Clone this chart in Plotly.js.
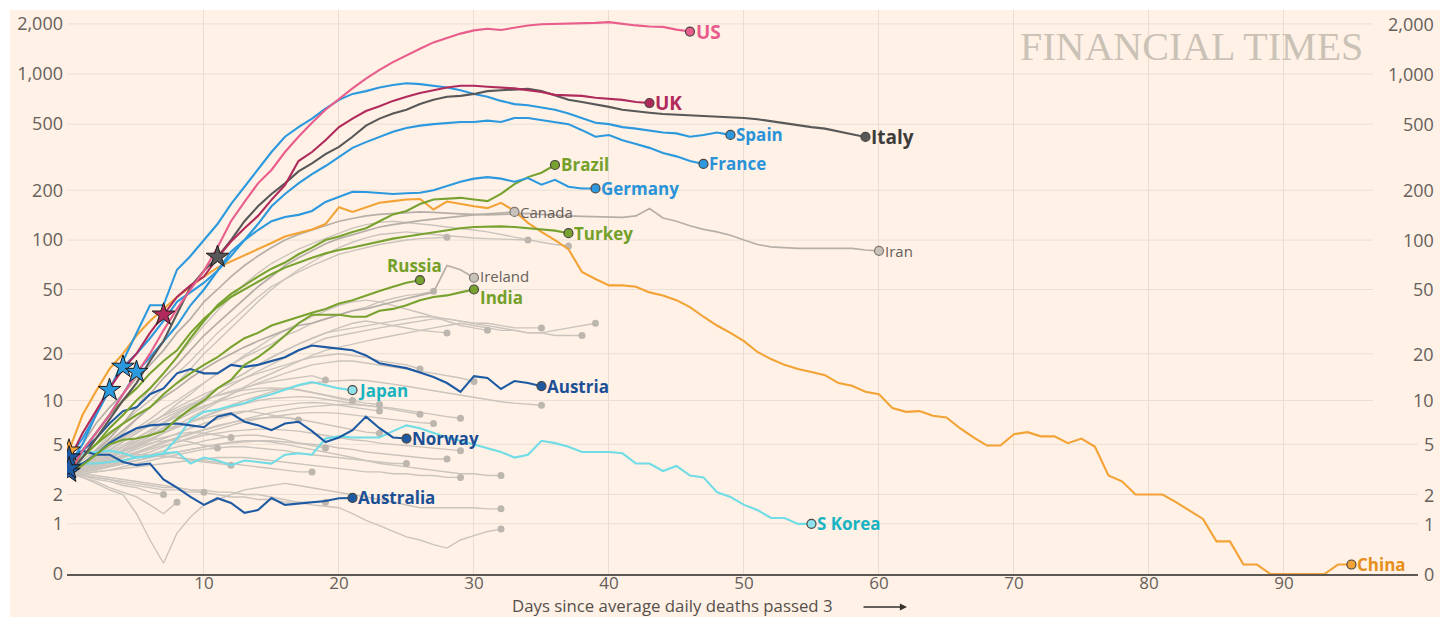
<!DOCTYPE html>
<html><head><meta charset="utf-8">
<script src="https://cdn.plot.ly/plotly-3.0.1.min.js"></script>
<style>html,body{margin:0;padding:0;background:#fff;width:1440px;height:617px;overflow:hidden}
#chart{position:absolute;left:10px;top:10px;width:1430px;height:607px}</style>
</head><body><div id="chart"></div>
<script>
// ---- DATA (7-day average daily deaths, index = days since avg passed 3) ----
const US = [3,4.5,6,8,11,15,20,28,38,50,65,90,130,170,220,265,340,420,510,610,710,820,940,1060,1180,1300,1420,1550,1650,1750,1830,1870,1840,1900,1960,1990,2000,1990,2010,2030,2050,2000,1960,1930,1920,1850,1800];
const UK = [3.8,6,8.5,12,16,20,27,35,45,53,60,78,98,118,140,175,215,300,340,400,480,540,600,640,690,730,770,800,830,850,850,840,830,820,800,780,750,745,740,720,710,700,680,670];
const Italy = [3,4,5.5,7.5,10,13,18,24,35,52,65,79,100,130,160,190,220,260,290,330,365,420,490,540,580,610,660,700,730,740,760,790,800,810,815,790,740,700,680,660,635,610,595,585,575,570,570,565,555,550,545,535,520,505,495,480,470,450,435,419];
const Spain = [4,5.5,8,11.7,18,27,40,40,66,80,100,125,165,210,266,340,420,480,540,620,700,760,790,830,860,880,870,850,830,800,760,730,690,660,650,630,610,580,545,510,500,480,470,455,445,440,420,430,445,431];
const France = [3.5,5,8,12,16.5,20,25,32,42,48,55,65,80,100,125,160,190,220,250,280,318,360,390,420,450,474,490,500,510,515,515,525,515,545,545,530,515,500,460,420,430,400,380,360,335,320,300,288];
const Germany = [3.2,4.5,6,8,11,15.3,19,24,30,40,50,65,85,100,115,130,138,142,150,170,182,196,195,193,190,192,193,200,212,225,235,240,235,225,237,216,231,210,205,205];
const Brazil = [3.2,4,5,6.5,8,10,12,15,19,25,32,40,47,53,60,67,73,82,90,100,105,112,118,130,143,150,165,176,178,180,176,172,190,218,240,255,284];
const Turkey = [3,4.5,6,8,10,12,15,18,21,27,33,39,45,50,56,62,68,73,78,83,87,90,94,98,102,105,108,112,115,118,120,121,121,120,118,116,114,110];
const Russia = [3.2,4,5,6,7,8,9,11,13,15,17,19,22,25,27,30,32,34,36,38,41,43,46,49,52,55,57];
const India = [3,3.5,4.2,5,5.4,5.5,5.8,6.2,7.5,8.8,10,12,13.6,17,19,22,26,31,35,35,35,34,34,37,38,40,43,45,46,48,50];
const China = [4.5,8,11.5,16,20,26,32,38,45,52,60,68,74,81,88,96,105,110,116,125,158,148,158,168,172,176,177,153,171,165,160,156,168,150,127,112,100,88,64,58,53,53,52,48,46,43,39,34,30,27,24,20.5,18.5,17,16,15.3,14.6,13,12.5,11.4,11,8.9,8.4,8.5,7.9,7.7,6.5,5.6,4.9,4.9,5.9,6.1,5.7,5.7,5.1,5.5,4.8,2.9,2.6,2,2,2,1.7,1.4,1.14,0.57,0.57,0.14,0.14,0,0,0,0,0,0.14,0.14];
const Japan = [3.5,3.6,3.6,3.7,3.8,4,4.1,4.3,5.5,7.4,8.4,8.7,9.2,9.6,10.4,11,11.8,12.6,13.2,12.6,12,11.7];
const SKorea = [3.3,4.3,4.4,4.5,4.3,4,4.1,4.3,4.4,3.6,4,3.8,3.5,3.8,3.7,3.6,4.2,4.3,4.2,5.5,5.7,5.6,5.6,5.6,6.2,6.8,6.5,6,5.6,5.3,5,4.7,4.4,4,4.2,5.3,5.1,4.8,4.4,4.4,4.4,4.3,3.6,3.6,3.15,3.45,2.9,2.8,2.1,1.9,1.6,1.42,1.17,1.17,1,1];
const Austria = [3.1,4.5,5.5,7,8.5,9,11,12,15,16,15,15,17,16.5,17,18,19,21,22.5,22,21.5,21,19.5,17.4,16.8,16.2,15.2,14.2,13,11.4,14.4,14,11.9,13.4,13,12.4];
const Norway = [4,4.5,4.2,5.1,5.8,6.5,6.8,6.9,7,6.8,6.6,7.8,8.2,7.2,6.8,6.3,7,7.2,6.2,5.2,5.6,6.3,7.8,6.5,5.6,5.5];
const Australia = [3.3,3.6,4.2,4.2,3.7,3.5,3.6,2.7,2.3,1.9,1.6,1.85,1.67,1.33,1.42,1.86,1.6,1.65,1.7,1.74,1.85,1.86];
const Iran = [3.5,5,7,9,11,14,17,21,27,33,42,50,60,70,80,90,100,108,115,122,130,135,140,143,145,147,148,147,145,144,143,142,143,144,145,143,141,140,139,138,137,137,140,155,136,130,122,116,112,107,100,94,91,90,89,89,89,89,89,87,86];
const Canada = [3,3.5,4.5,5.5,7,9,11,14,17,21,26,31,37,44,52,60,70,78,86,95,102,108,114,120,124,128,131,134,137,140,142,144,146,148];
const Ireland = [3,3.6,4.3,5.2,6.3,7.5,9,10.5,12,14,16,18,20,22,24,26,28,30,31,33,35,37,38,40,42,44,46,48,70,66,59];

// unlabelled grey countries
const greyA = [3,3.8,4.6,5.8,7,8.5,10,12,15,18,22,27,32,38,45,52,58,64,70,76,82,86,90,94,97,100,102,103,104];
const greyB = [3,3.5,4.2,5,6,7.5,9,11,13,16,20,24,29,35,42,50,58,66,74,82,90,97,103,108,110,112,110,108,106,104,103,102,101,100,100];
const greyC = [3,3.6,4.3,5.5,7,9,12,15,19,24,30,37,45,54,63,72,80,88,95,102,110,118,124,128,130,128,126,123,120,118,115,112,108,104,100,97,94,92];
const greyD = [3,3.5,4,4.8,5.6,6.5,7.5,8.8,10,11.5,13,15,17,19,21,23,26,28,31,33,35,37,39,42,44,46,47,48.7];
const greyE = [3,3.3,3.7,4.2,4.8,5.5,6.3,7.2,8.2,9.3,10.5,12,13.5,15,17,19,21,23,25,27,29,31,32,31,30,29,28,27.5,27];
const greyF = [3,3.4,3.9,4.5,5.2,6,7,8,9.5,11,13,15,17,19.5,22,25,28,31,34,37,40,42,43,42,40,38,36,34,32,30,29,28];
const greyG = [3,3.2,3.5,3.9,4.4,5,5.7,6.5,7.5,8.6,9.8,11,12.5,14,15.5,17,19,21,23,25,26,27,28,29,30,31,32,33,33,32,31,31,30,29,29,29];
const greyH = [3,3.3,3.6,4,4.6,5.2,6,7,8,9.2,10.5,12,13.5,15,17,19,21,23,25,27,28,29,30,31,32,33,34,34,33,32,31,30,29,28,27,27,28,29,30,31];
const greyI = [3,3.2,3.5,3.8,4.2,4.7,5.3,6,6.8,7.7,8.7,9.8,11,12.3,13.7,15,16.5,18,19.5,21,22,23,24,25,26,27,28,29,30,31,30,29,28,28,27,27,26,26,26];
const greyJ = [3,3.4,3.9,4.5,5.2,6,7,8,9,10,11,12,13,14,15,16,17,18,19,19.5,20,19.5,19,18,17.5,17,16];
const greyK = [3,3.5,4,4.6,5.3,6,6.8,7.6,8.4,9.2,10,10.8,11.5,12.2,12.8,13.3,13.7,14,14.5,13.6];
const greyL = [3,3.3,3.7,4.1,4.6,5.2,5.9,6.6,7.4,8.2,9,10,11,12,13,14,15,16,17,17.5,18,18,17.5,17,16.5,16,15.5,15,14.5,14,13.3];
const greyM = [3,3.4,3.9,4.4,5,5.6,6.3,7,7.8,8.5,9.2,9.8,10.4,11,11.5,11.8,12,11.8,11.3,10.8,10.4,10];
const greyN = [3,3.3,3.6,4,4.4,4.9,5.4,6,6.6,7.2,7.9,8.6,9.3,10,10.7,11.4,12,12.5,13,13.3,13.5,13.6,13.5,13.2,12.8,12.4,12,11.6,11.2,10.8,10.4,10.1,9.8,9.6,9.4,9.3];
const greyO = [3,3.5,4.1,4.8,5.5,6.3,7.1,7.9,8.7,9.5,10.2,10.8,11.3,11.7,12,12.1,12,11.7,11.3,10.8,10.3,9.9,9.6,9.4];
const greyP = [3,3.2,3.5,3.8,4.2,4.6,5,5.5,6,6.5,7,7.5,8,8.4,8.8,9.1,9.4,9.6,9.7,9.6,9.3,9,8.7,8.5];
const greyQ = [3,3.3,3.7,4.1,4.5,5,5.5,6,6.6,7.2,7.8,8.4,9,9.5,10,10.3,10.5,10.6,10.5,10.2,9.9,9.6,9.3,9,8.7,8.4,8.1];
const greyR = [3,3.2,3.4,3.7,4,4.3,4.7,5.1,5.5,5.9,6.3,6.7,7.1,7.5,7.9,8.3,8.6,8.9,9.1,9.3,9.4,9.4,9.3,9.1,8.9,8.6,8.3,8,7.8,7.6];
const greyS = [3,3.1,3.3,3.5,3.8,4.1,4.4,4.8,5.2,5.6,6,6.4,6.8,7.2,7.5,7.8,8,8.2,8.3,8.3,8.2,8,7.8,7.6,7.4,7.2,7.1,7];
const greyT = [3,3.4,3.8,4.3,4.8,5.3,5.8,6.3,6.8,7.2,7.6,8,8.3,8.5,8.3,8,7.7,7.4];
const greyU = [3,3.3,3.7,4.1,4.5,4.9,5.3,5.6,5.9,6.1,6,5.8,5.6];
const greyV = [3,3.2,3.5,3.8,4.1,4.4,4.8,5.2,5.6,6,6.4,6.8,7.1,7.4,7.6,7.7,7.7,7.5,7.2,6.9,6.6,6.3,6.1,6];
const greyW = [3,3.3,3.6,4,4.4,4.8,5.1,5.3,5.4,5.2,4.9,4.7];
const greyX = [3,3.1,3.3,3.5,3.7,4,4.2,4.5,4.8,5,5.3,5.5,5.7,5.8,5.8,5.6,5.4,5.1,4.9,4.7];
const greyY = [3,3.2,3.4,3.7,4,4.3,4.6,4.9,5.2,5.5,5.8,6,6.2,6.3,6.4,6.4,6.3,6.2,6,5.8,5.6,5.4,5.3,5.1,5,4.9,4.8,4.7,4.6,4.5];
const greyZ = [3,3.1,3.2,3.4,3.6,3.8,4,4.2,4.4,4.6,4.8,5,5.1,5.2,5.3,5.3,5.2,5.1,5,4.9,4.7,4.6,4.4,4.3,4.2,4.1,4,3.9,3.9];
const greyAA = [3,3,3.1,3.2,3.4,3.6,3.8,4,4.2,4.4,4.6,4.7,4.8,4.8,4.7,4.6,4.5,4.3,4.2,4.1,4,3.9,3.8,3.7,3.6,3.6];
const greyAB = [3,3.3,3.6,3.9,4.1,4.2,4.2,4.1,4,3.8,3.7,3.6,3.5];
const greyAC = [3,3.2,3.4,3.6,3.8,4,4.1,4.1,4,3.9,3.8,3.7,3.6,3.5,3.4,3.3,3.2,3.1,3.1];
const greyAD = [3,3,3.1,3.2,3.3,3.4,3.5,3.6,3.7,3.8,3.9,4,4,4,3.9,3.8,3.7,3.6,3.5,3.4,3.3,3.2,3.1,3.1,3,3,2.9,2.9,2.8,2.8];
const greyAE = [3,3.1,3.2,3.4,3.6,3.8,4,4.2,4.4,4.6,4.8,5,5.2,5.3,5.3,5.2,5,4.8,4.6,4.4,4.2,4,3.8,3.6,3.5,3.4,3.3,3.2,3.1,3,3,2.9,2.9];
const greyAF = [3,2.9,2.7,2.6,2.4,2.3,2.1,2];
const greyAG = [3,2.9,2.8,2.7,2.5,2.4,2.3,2.2,2.2,2.1,2.1];
const greyAH = [3,2.8,2.6,2.3,2.1,1.9,1.6,1.3,1.7];
const greyAI = [3,3,2.9,2.8,2.7,2.6,2.5,2.4,2.3,2.2,2.1,2,1.9,1.9,1.8,1.8,1.7,1.7,1.7,1.7];
const greyAJ = [3,2.8,2.5,2.2,2,1.3,0.6,0.16,0.76,1.2,1.6,1.8,2,2.2,2.3,2.4,2.5,2.4,2.3,2.2,2.1,2,1.9,1.8,1.7,1.6,1.5,1.5,1.5,1.5,1.5,1.46,1.46];
const greyAK = [3,2.9,2.8,2.7,2.6,2.5,2.4,2.3,2.3,2.2,2.2,2.1,2.1,2,2,1.9,1.8,1.7,1.6,1.55,1.5,1.3,1.1,0.95,0.8,0.67,0.6,0.5,0.43,0.6,0.7,0.8,0.86];

// lockdown stars: [country, day]
const starCountries = ['China','Norway','Austria','Australia','Spain','France','Germany','UK','Italy'];
const starDays = [0,0,0,0,3,4,5,7,11];

const yTickValues = [0,1,2,5,10,20,50,100,200,500,1000,2000];
const yTickLabels = ['0','1','2','5','10','20','50','100','200','500','1,000','2,000'];
const xTickValues = [10,20,30,40,50,60,70,80,90];

// ---- STYLE ----
const C = {pink:'#e95d8c', uk:'#b02b5c', italy:'#585858', blue:'#2c98de', green:'#78a22f', orange:'#f3a236',
           navy:'#1d5aa3', cyan:'#6fdce6', grey:'#cbc4bd', greyDark:'#b6afa8'};
const series = [
  {name:'China', data:China, color:C.orange, label:'#e68f1c', size:17},
  {name:'S Korea', data:SKorea, color:C.cyan, label:'#19b3c2', size:17, dot:'#8fe3ec'},
  {name:'Japan', data:Japan, color:C.cyan, label:'#19b3c2', size:17, dot:'#8fe3ec'},
  {name:'Australia', data:Australia, color:C.navy, label:'#1b4f96', size:17},
  {name:'Norway', data:Norway, color:C.navy, label:'#1b4f96', size:17},
  {name:'Austria', data:Austria, color:C.navy, label:'#1b4f96', size:17},
  {name:'India', data:India, color:C.green, label:'#74a02a', size:17, dy:-8},
  {name:'Russia', data:Russia, color:C.green, label:'#74a02a', size:17, above:true},
  {name:'Turkey', data:Turkey, color:C.green, label:'#74a02a', size:17},
  {name:'Brazil', data:Brazil, color:C.green, label:'#74a02a', size:17},
  {name:'Germany', data:Germany, color:C.blue, label:'#2a93d8', size:17},
  {name:'France', data:France, color:C.blue, label:'#2a93d8', size:17},
  {name:'Spain', data:Spain, color:C.blue, label:'#2a93d8', size:17},
  {name:'Italy', data:Italy, color:C.italy, label:'#3e3c3b', size:19},
  {name:'UK', data:UK, color:C.uk, label:'#b02b5c', size:19},
  {name:'US', data:US, color:C.pink, label:'#e95d8c', size:19}
];
const labelledGrey = [{name:'Iran', data:Iran, dy:0},{name:'Canada', data:Canada, dy:0},{name:'Ireland', data:Ireland, dy:2}];
const greys = [greyA,greyB,greyC,greyD,greyE,greyF,greyG,greyH,greyI,greyJ,greyK,greyL,greyM,greyN,greyO,greyP,greyQ,greyR,greyS,greyT,greyU,greyV,greyW,greyX,greyY,greyZ,greyAA,greyAB,greyAC,greyAD,greyAE,greyAF,greyAG,greyAH,greyAI,greyAJ,greyAK];

const f = v => Math.log10(v + 1);
const idx = a => a.map((_, i) => i);
const PL = 67, PW = 1351, PB = 574, PH = 564; // page coords of plot area
const px = X => (X - PL) / PW;
const py = Y => (PB - Y) / PH;
const XMIN = -0.148, XMAX = 99.93;
const xAtPage = X => (X - 69) / 13.5;

const traces = [];
const FONT = 'Open Sans, Noto Sans, sans-serif';
greys.forEach(g => traces.push({x:idx(g), y:g.map(f), mode:'lines', line:{color:C.grey, width:1.4}, hoverinfo:'skip'}));
greys.forEach(g => traces.push({x:[g.length-1], y:[f(g[g.length-1])], mode:'markers', marker:{color:'#bdb6af', size:7}, hoverinfo:'skip'}));
labelledGrey.forEach(g => {
  traces.push({x:idx(g.data), y:g.data.map(f), mode:'lines', line:{color:C.greyDark, width:1.7}, hoverinfo:'skip'});
});
series.forEach(s => traces.push({x:idx(s.data), y:s.data.map(f), mode:'lines', line:{color:s.color, width:2.1}, hoverinfo:'skip'}));
labelledGrey.forEach(g => {
  const n = g.data.length - 1;
  traces.push({x:[n], y:[f(g.data[n])], mode:'markers', marker:{color:'#c9c2bb', size:9, line:{color:'#7d7671', width:1.2}}, hoverinfo:'skip'});
});
series.forEach(s => {
  const n = s.data.length - 1;
  traces.push({x:[n], y:[f(s.data[n])], mode:'markers', marker:{color:s.dot || s.color, size:9, line:{color:'#4a4644', width:1.2}}, hoverinfo:'skip'});
});
// stars
const byName = {}; series.forEach(s => byName[s.name] = s);
traces.push({
  x: starDays,
  y: starCountries.map((c, i) => f(byName[c].data[starDays[i]])),
  mode:'markers',
  marker:{symbol:'star', size:17, color:starCountries.map(c => byName[c].color), line:{color:'#1e1b1a', width:1}},
  hoverinfo:'skip'
});

const shapes = [];
yTickValues.forEach(v => {
  if (v === 0) return;
  const long = (v === 1 || v === 2 || v === 5);
  shapes.push({type:'line', xref:'x', yref:'y', x0:XMIN, x1: long ? XMAX : xAtPage(1373), y0:f(v), y1:f(v),
    line:{color:'#eadfd4', width:1}, layer:'below'});
});

const annotations = [];
yTickValues.forEach((v, i) => annotations.push({xref:'paper', yref:'y', x:px(1436), y:f(v), xanchor:'right', yanchor:'middle',
  text:yTickLabels[i], showarrow:false, font:{family:FONT, size:18, color:'#66605c'}}));
series.forEach(s => {
  const n = s.data.length - 1;
  if (s.above) {
    annotations.push({xref:'x', yref:'y', x:n, y:f(s.data[n]), xanchor:'center', yanchor:'middle', xshift:-5, yshift:15,
      text:'<b>'+s.name+'</b>', showarrow:false, font:{family:FONT, size:s.size, color:s.label}});
  } else {
    annotations.push({xref:'x', yref:'y', x:n, y:f(s.data[n]), xanchor:'left', yanchor:'middle', xshift:4, yshift:(s.dy||0),
      text:'<b>'+s.name+'</b>', showarrow:false, font:{family:FONT, size:s.size, color:s.label}});
  }
});
labelledGrey.forEach(g => {
  const n = g.data.length - 1;
  annotations.push({xref:'x', yref:'y', x:n, y:f(g.data[n]), xanchor:'left', yanchor:'middle', xshift:4, yshift:g.dy,
    text:g.name, showarrow:false, font:{family:FONT, size:15, color:'#66605c'}});
});
annotations.push({xref:'paper', yref:'paper', x:px(511), y:py(605.5), xanchor:'left', yanchor:'middle', borderpad:0,
  text:'Days since average daily deaths passed 3', showarrow:false, font:{family:FONT, size:16.8, color:'#55504c'}});
annotations.push({xref:'paper', yref:'paper', x:px(907), y:py(607), ax:-45, ay:0, text:'', showarrow:true,
  arrowhead:2, arrowsize:1.1, arrowwidth:1.3, arrowcolor:'#33302e'});
annotations.push({xref:'paper', yref:'paper', x:px(1191), y:py(47), xanchor:'center', yanchor:'middle',
  text:'FINANCIAL TIMES', showarrow:false, font:{family:'Liberation Serif, serif', size:40, color:'#cbc2b7'}});

const layout = {
  width:1430, height:607,
  margin:{l:57, r:22, t:0, b:43},
  paper_bgcolor:'#fff1e5', plot_bgcolor:'#fff1e5',
  showlegend:false,
  xaxis:{range:[XMIN, XMAX], tickvals:xTickValues, showgrid:true, gridcolor:'#eadcd0', gridwidth:1, zeroline:false,
    showline:true, linecolor:'#5d5853', linewidth:1.5, ticks:'', ticklabelstandoff:-7,
    tickfont:{family:FONT, size:17, color:'#66605c'}, fixedrange:true},
  yaxis:{range:[0, 3.385], tickvals:yTickValues.map(f), ticktext:yTickLabels, showgrid:false, zeroline:false, showline:false,
    ticks:'', ticklabelstandoff:3, tickfont:{family:FONT, size:18, color:'#66605c'}, fixedrange:true},
  shapes, annotations
};
Plotly.newPlot('chart', traces, layout, {staticPlot:true, displayModeBar:false});
</script></body></html>
